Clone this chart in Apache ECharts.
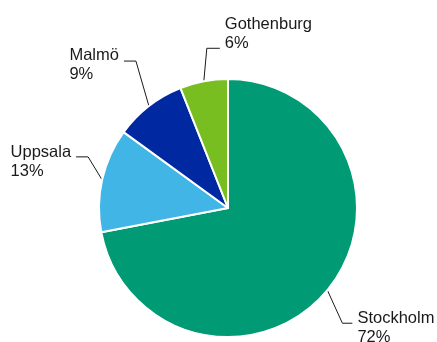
<!DOCTYPE html>
<html>
<head>
<meta charset="utf-8">
<script src="https://cdn.jsdelivr.net/npm/echarts@6/dist/echarts.min.js"></script>
<style>
  html, body { margin: 0; padding: 0; background: #fff; }
  #main { width: 437px; height: 342px; }
</style>
</head>
<body>
<div id="main"></div>
<script>
// data
var cities = ['Stockholm', 'Uppsala', 'Malmö', 'Gothenburg'];
var shares = [72, 13, 9, 6];
var cityColors = ['#009a75', '#41b6e6', '#0028a0', '#78be20'];

// leader line shape per label: [elbow dx, elbow dy, horizontal run, text dy]
var leaderShape = [
    [15, 33, 10, 5],
    [-14, -23, -12, 5],
    [-13, -45, -12, 4],
    [3, -33, 13, -14]
];

var myChart = echarts.init(document.getElementById('main'));

var pieData = [];
for (var i = 0; i < cities.length; i++) {
    pieData.push({ name: cities[i], value: shares[i], itemStyle: { color: cityColors[i] } });
}

var option = {
    animation: false,
    series: [{
        type: 'pie',
        center: [228, 208],
        radius: 129,
        startAngle: 90,
        clockwise: true,
        data: pieData,
        itemStyle: { borderColor: '#fff', borderWidth: 2 },
        label: {
            show: true,
            formatter: '{b}\n{d}%',
            fontFamily: 'Liberation Sans, Arial, sans-serif',
            fontSize: 16.5,
            lineHeight: 19,
            color: '#1a1a1a',
            overflow: 'none'
        },
        labelLine: {
            show: true,
            length: 15,
            length2: 10,
            lineStyle: { color: '#1a1a1a', width: 1 }
        },
        labelLayout: function (params) {
            var s = leaderShape[params.dataIndex];
            var p0 = params.labelLinePoints[0];
            var p1 = [p0[0] + s[0], p0[1] + s[1]];
            var p2 = [p1[0] + s[2], p1[1]];
            var w = params.labelRect.width;
            var x = s[2] > 0 ? p2[0] + 5 : p2[0] - 5 - w;
            return {
                x: x,
                y: p2[1] + s[3],
                align: 'left',
                verticalAlign: 'middle',
                labelLinePoints: [p0, p1, p2]
            };
        }
    }]
};

myChart.setOption(option);
</script>
</body>
</html>
